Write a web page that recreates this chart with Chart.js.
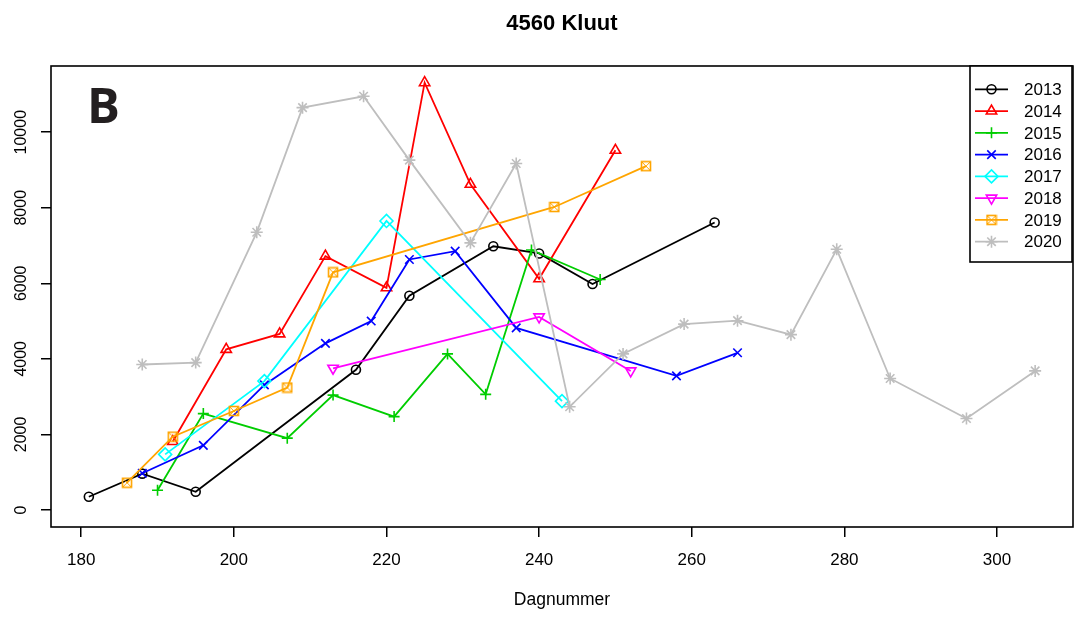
<!DOCTYPE html>
<html>
<head>
<meta charset="utf-8">
<script src="https://cdn.jsdelivr.net/npm/chart.js@4.4.1/dist/chart.umd.min.js"></script>
<style>
body { margin: 0; background: #fff; }
</style>
</head>
<body>
<canvas id="myChart" width="1076" height="618"></canvas>
<script>
// data
const years = ['2013', '2014', '2015', '2016', '2017', '2018', '2019', '2020']

const days2013 = [181, 188, 195, 216, 223, 234, 240, 247, 263]
const vals2013 = [350, 960, 480, 3710, 5670, 6980, 6790, 5980, 7610]

const days2014 = [192, 199, 206, 212, 220, 225, 231, 240, 250]
const vals2014 = [1810, 4250, 4660, 6720, 5880, 11310, 8620, 6120, 9520]

const days2015 = [190, 196, 207, 213, 221, 228, 233, 239, 248]
const vals2015 = [520, 2550, 1900, 3040, 2470, 4130, 3060, 6880, 6100]

const days2016 = [188, 196, 204, 212, 218, 223, 229, 237, 258, 266]
const vals2016 = [970, 1710, 3310, 4410, 5000, 6630, 6850, 4820, 3550, 4160]

const days2017 = [191, 204, 220, 243]
const vals2017 = [1470, 3410, 7650, 2880]

const days2018 = [213, 240, 252]
const vals2018 = [3750, 5110, 3680]

const days2019 = [186, 192, 200, 207, 213, 242, 254]
const vals2019 = [720, 1940, 2620, 3240, 6290, 8020, 9100]

const days2020 = [188, 195, 203, 209, 217, 223, 231, 237, 244, 251, 259, 266, 273, 279, 286, 296, 305]
const vals2020 = [3850, 3900, 7350, 10650, 10950, 9260, 7070, 9170, 2730, 4130, 4920, 5010, 4640, 6900, 3480, 2420, 3680]

const xTicks = [180, 200, 220, 240, 260, 280, 300]
const yTicks = [0, 2000, 4000, 6000, 8000, 10000]

const allDays = [days2013, days2014, days2015, days2016, days2017, days2018, days2019, days2020]
const allVals = [vals2013, vals2014, vals2015, vals2016, vals2017, vals2018, vals2019, vals2020]

const colores = ['#000000', '#FF0000', '#00CD00', '#0000FF', '#00FFFF', '#FF00FF', '#FFA500', '#BEBEBE']

// square with a cross in it (R pch 7)
function boxCross(color){
    const c = document.createElement('canvas')
    c.width = 12
    c.height = 12
    const g = c.getContext('2d')
    g.strokeStyle = color
    g.lineWidth = 1.6
    g.strokeRect(1.5, 1.5, 9, 9)
    g.lineWidth = 1
    g.beginPath()
    g.moveTo(1.5, 1.5); g.lineTo(10.5, 10.5)
    g.moveTo(10.5, 1.5); g.lineTo(1.5, 10.5)
    g.stroke()
    return c
}

const estilos = ['circle', 'triangle', 'cross', 'crossRot', 'rectRot', 'triangle', boxCross('#FFA500'), 'star']
const giros = [0, 0, 0, 0, 0, 180, 0, 0]
const radios = [4.5, 6, 5.5, 6, 6.5, 6, 6, 6]

const FONT = '"Liberation Sans", Arial, sans-serif'
Chart.defaults.font.family = FONT
Chart.defaults.color = '#000'

const datasets = years.map((y, i) => ({
    label: y,
    data: allDays[i].map((d, j) => ({ x: d, y: allVals[i][j] })),
    borderColor: colores[i],
    backgroundColor: colores[i],
    borderWidth: 1.8,
    pointStyle: estilos[i],
    pointRotation: giros[i],
    pointRadius: radios[i],
    pointBorderWidth: 1.6,
    pointBackgroundColor: 'rgba(0,0,0,0)',
    pointBorderColor: colores[i],
    tension: 0,
    fill: false,
    order: years.length - i
}))

const extras = {
    id: 'extras',
    afterDraw(chart){
        const ctx = chart.ctx
        const a = chart.chartArea
        const ys = chart.scales.y
        ctx.save()
        // plot box
        ctx.strokeStyle = '#000'
        ctx.lineWidth = 1.6
        ctx.strokeRect(a.left, a.top, a.right - a.left, a.bottom - a.top)

        // rotated y labels
        ctx.fillStyle = '#000'
        ctx.font = '16px ' + FONT
        ctx.textAlign = 'center'
        ctx.textBaseline = 'alphabetic'
        yTicks.forEach(v => {
            ctx.save()
            ctx.translate(25.5, ys.getPixelForValue(v))
            ctx.rotate(-Math.PI / 2)
            ctx.fillText(String(v), 0, 0)
            ctx.restore()
        })

        // title
        ctx.font = 'bold 22px ' + FONT
        ctx.fillText('4560 Kluut', (a.left + a.right) / 2, 30)

        // panel letter
        ctx.font = 'bold 49px "Open Sans", ' + FONT
        ctx.textAlign = 'left'
        ctx.fillStyle = '#231f20'
        ctx.fillText('B', 87, 123)

        // legend
        const lx = 970, ly = 66, lw = 102, lh = 196
        ctx.fillStyle = '#fff'
        ctx.fillRect(lx, ly, lw, lh)
        ctx.strokeStyle = '#000'
        ctx.lineWidth = 1.6
        ctx.strokeRect(lx, ly, lw, lh)
        ctx.font = '17px ' + FONT
        ctx.textBaseline = 'middle'
        years.forEach((y, i) => {
            const yy = 89.3 + i * 21.77
            ctx.strokeStyle = colores[i]
            ctx.lineWidth = 1.8
            ctx.beginPath()
            ctx.moveTo(975, yy)
            ctx.lineTo(1008, yy)
            ctx.stroke()
            ctx.fillStyle = 'rgba(0,0,0,0)'
            ctx.lineWidth = 1.6
            Chart.helpers.drawPoint(ctx, {
                pointStyle: estilos[i],
                rotation: giros[i],
                radius: radios[i],
                borderWidth: 1.6
            }, 991.5, yy)
            ctx.fillStyle = '#000'
            ctx.textAlign = 'left'
            ctx.fillText(y, 1024, yy + 1)
        })
        ctx.restore()
    }
}

const ctx = document.getElementById('myChart')
const myChart = new Chart(ctx, {
    type: 'line',
    data: { datasets: datasets },
    options: {
        responsive: false,
        animation: false,
        events: [],
        layout: { autoPadding: false, padding: { left: 0, right: 3, top: 66, bottom: 0 } },
        plugins: {
            legend: { display: false },
            tooltip: { enabled: false }
        },
        scales: {
            x: {
                type: 'linear',
                min: 176.04,
                max: 309.96,
                afterBuildTicks: s => { s.ticks = xTicks.map(v => ({ value: v })) },
                afterFit: s => { s.height = 91 },
                border: { display: false },
                grid: { drawOnChartArea: false, drawTicks: true, tickLength: 10, color: '#000', lineWidth: 1.5 },
                ticks: { font: { size: 17 }, color: '#000', padding: 13, maxRotation: 0, autoSkip: false },
                title: { display: true, text: 'Dagnummer', font: { size: 17.5 }, color: '#000', padding: { top: 0, bottom: 7 } }
            },
            y: {
                type: 'linear',
                min: -452,
                max: 11752,
                afterBuildTicks: s => { s.ticks = yTicks.map(v => ({ value: v })) },
                afterFit: s => { s.width = 51 },
                border: { display: false },
                grid: { drawOnChartArea: false, drawTicks: true, tickLength: 10, color: '#000', lineWidth: 1.5 },
                ticks: { display: false }
            }
        }
    },
    plugins: [extras]
})
</script>
</body>
</html>
